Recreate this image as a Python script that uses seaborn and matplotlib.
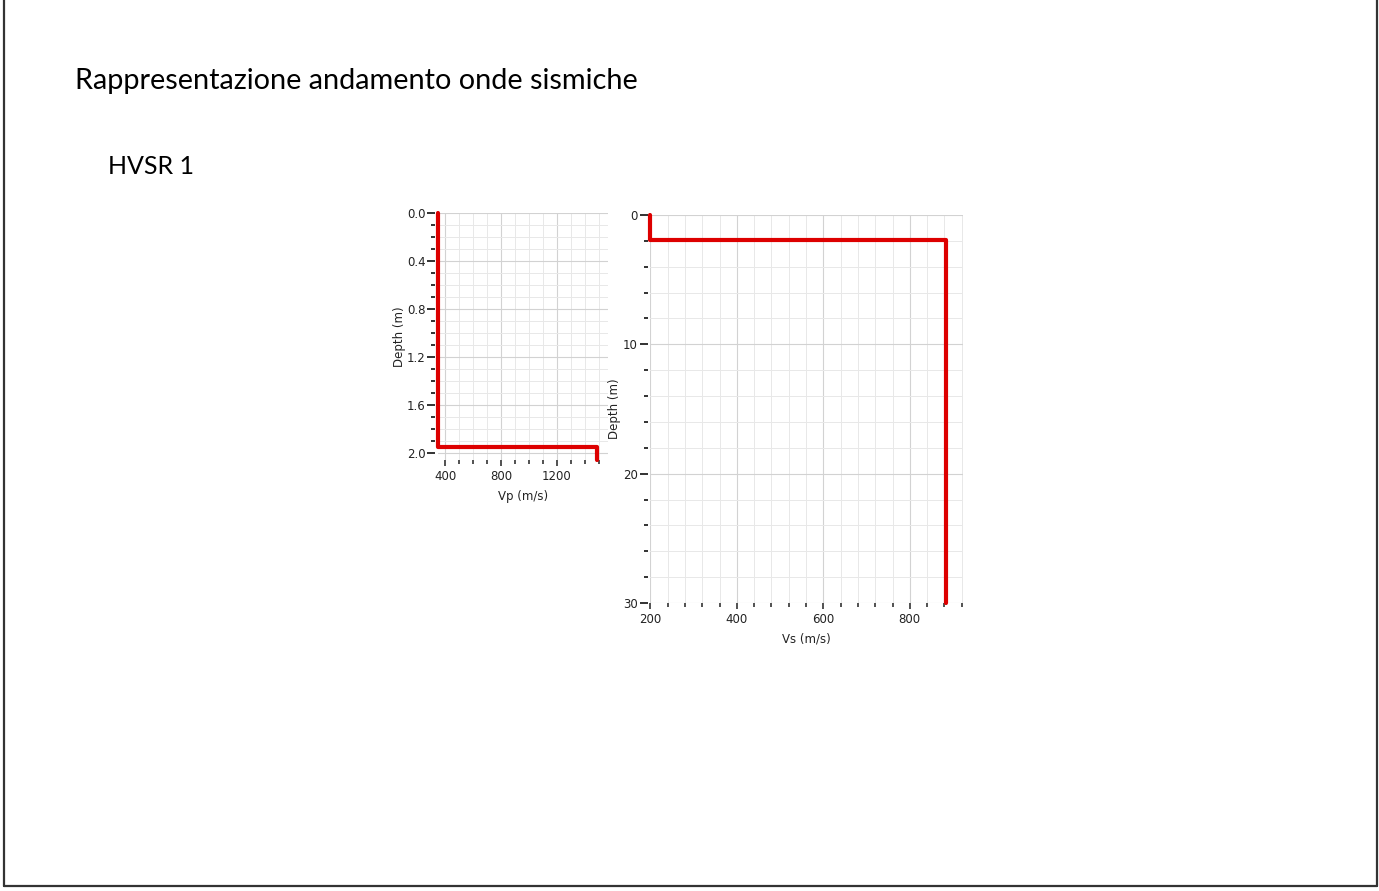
import matplotlib
matplotlib.use("Agg")
import matplotlib.pyplot as plt
from matplotlib.lines import Line2D
from matplotlib.ticker import MultipleLocator, FormatStrFormatter
import seaborn as sns
import pandas as pd

# ---- dati (profilo a strati) ----
vp_layer_tops = [0.0, 1.95]        # m
vp_values = [346, 1490]            # m/s
vp_bottom = 2.06                   # fondo del profilo Vp (m)

vs_layer_tops = [0.0, 1.95]        # m
vs_values = [200, 884]             # m/s
vs_bottom = 30.0                   # fondo del profilo Vs (m)

slide_title = "Rappresentazione andamento onde sismiche"
section_title = "HVSR 1"

RED = "#dd0000"
CHART_FONT = ["DejaVu Sans"]
SLIDE_FONT = ["Lato", "DejaVu Sans"]


def profilo_a_gradini(tops, vels, bottom):
    # converte strati (tetto + velocità) in una spezzata a gradini
    depth, vel = [], []
    basi = list(tops[1:]) + [bottom]
    for top, base, v in zip(tops, basi, vels):
        depth += [top, base]
        vel += [v, v]
    return pd.DataFrame({"vel": vel, "depth": depth})


def stile_asse(ax, xmaj, xmin, ymaj, ymin, yfmt):
    for s in ax.spines.values():
        s.set_visible(False)
    ax.spines["left"].set_position(("outward", 2))
    ax.xaxis.set_major_locator(MultipleLocator(xmaj))
    ax.xaxis.set_minor_locator(MultipleLocator(xmin))
    ax.yaxis.set_major_locator(MultipleLocator(ymaj))
    ax.yaxis.set_minor_locator(MultipleLocator(ymin))
    ax.yaxis.set_major_formatter(FormatStrFormatter(yfmt))
    ax.grid(which="major", color="#d2d2d2", lw=0.8)
    ax.grid(which="minor", color="#e8e8e8", lw=0.7)
    ax.set_axisbelow(True)
    ax.tick_params(axis="y", which="major", direction="out", length=6, width=1.3,
                   color="#222222", pad=1, labelsize=8.5, labelcolor="#222222", left=True)
    ax.tick_params(axis="y", which="minor", direction="out", length=3, width=1.3,
                   color="#222222", left=True)
    ax.tick_params(axis="x", which="major", direction="out", length=4, width=1.1,
                   color="#222222", pad=3, labelsize=8.5, labelcolor="#222222", bottom=True)
    ax.tick_params(axis="x", which="minor", direction="out", length=3, width=1.1,
                   color="#222222", bottom=True)
    for lab in ax.get_xticklabels() + ax.get_yticklabels():
        lab.set_family(CHART_FONT)


sns.set_theme(style="white")
plt.rcParams["font.family"] = CHART_FONT

fig = plt.figure(figsize=(13.79, 8.91), dpi=100)
fig.patch.set_facecolor("white")

# ---- grafico Vp ----
ax1 = fig.add_axes([0.3176, 0.4837, 0.1233, 0.2772])
df_vp = profilo_a_gradini(vp_layer_tops, vp_values, vp_bottom)
sns.lineplot(data=df_vp, x="vel", y="depth", sort=False, estimator=None,
             color=RED, lw=3, ax=ax1, clip_on=False, zorder=5)
ax1.set_xlim(346, 1567)
ax1.set_ylim(vp_bottom, 0)
stile_asse(ax1, 400, 100, 0.4, 0.1, "%.1f")
ax1.set_xlabel("Vp (m/s)", fontsize=8.5, color="#222222", labelpad=5)
ax1.set_ylabel("Depth (m)", fontsize=8.5, color="#222222")
ax1.yaxis.set_label_coords(-0.19, 0.5)

# ---- grafico Vs ----
ax2 = fig.add_axes([0.4717, 0.3232, 0.2266, 0.4355])
df_vs = profilo_a_gradini(vs_layer_tops, vs_values, vs_bottom)
sns.lineplot(data=df_vs, x="vel", y="depth", sort=False, estimator=None,
             color=RED, lw=3, ax=ax2, clip_on=False, zorder=5)
ax2.set_xlim(200, 923)
ax2.set_ylim(vs_bottom, 0)
stile_asse(ax2, 200, 40, 10, 2, "%.0f")
ax2.set_xlabel("Vs (m/s)", fontsize=8.5, color="#222222", labelpad=5)
ax2.set_ylabel("Depth (m)", fontsize=8.5, color="#222222")
ax2.yaxis.set_label_coords(-0.094, 0.5)

# ---- testi della slide ----
fig.text(75 / 1379, 1 - 81 / 891, slide_title, family=SLIDE_FONT, fontsize=20.8,
         color="black", va="center", ha="left")
fig.text(108 / 1379, 1 - 166 / 891, section_title, family=SLIDE_FONT, fontsize=18,
         color="black", va="center", ha="left")

# cornice della slide
bordo = dict(color="#333333", lw=1.6, transform=fig.transFigure)
fig.add_artist(Line2D([4 / 1379, 4 / 1379], [0.0056, 1], **bordo))
fig.add_artist(Line2D([1377 / 1379, 1377 / 1379], [0.0056, 1], **bordo))
fig.add_artist(Line2D([4 / 1379, 1377 / 1379], [0.0056, 0.0056], **bordo))

fig.savefig("out.png", dpi=100, facecolor="white")
